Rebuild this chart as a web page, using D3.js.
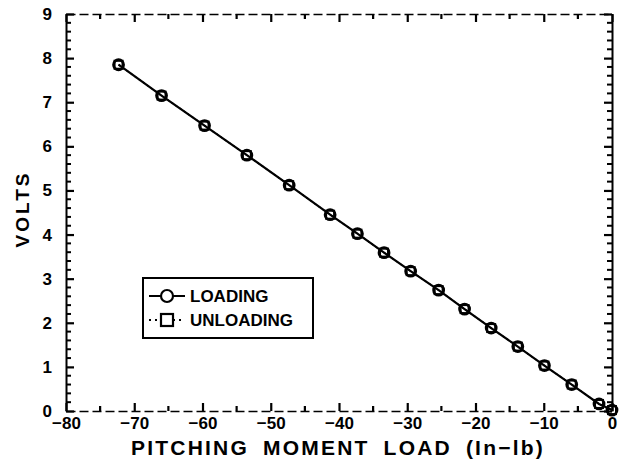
<!DOCTYPE html>
<html>
<head>
<meta charset="utf-8">
<script src="https://cdn.jsdelivr.net/npm/d3@7"></script>
<style>
  body { margin: 0; background: #fff; }
  svg { display: block; }
  text { font-family: "Liberation Sans", Arial, sans-serif; font-weight: bold; fill: #000; }
</style>
</head>
<body>
<div id="chart"></div>
<script>
// Calibration chart: output volts vs pitching moment load

const width = 619;
const height = 472;
const margin = { top: 14, right: 7, bottom: 61, left: 66 };

// Loading points (in-lb, volts)
const loadValues = [-72.3, -66.0, -59.7, -53.5, -47.3, -41.3, -37.3, -33.4, -29.5, -25.4, -21.6, -17.7, -13.8, -9.9, -5.9, -1.9, 0];
const loadingVolts = [7.85, 7.15, 6.47, 5.80, 5.12, 4.45, 4.02, 3.59, 3.17, 2.74, 2.31, 1.88, 1.46, 1.03, 0.60, 0.16, 0.02];
// Unloading points lie on top of the loading ones
const unloadingVolts = [7.85, 7.15, 6.47, 5.80, 5.12, 4.45, 4.02, 3.59, 3.17, 2.74, 2.31, 1.88, 1.46, 1.03, 0.60, 0.16, 0.02];

const xTicks = [-80, -70, -60, -50, -40, -30, -20, -10, 0];
const yTicks = [0, 1, 2, 3, 4, 5, 6, 7, 8, 9];

const innerW = width - margin.left - margin.right;
const innerH = height - margin.top - margin.bottom;

const svg = d3.select('#chart')
    .append('svg')
    .attr('width', width)
    .attr('height', height);

const g = svg.append('g')
    .attr('transform', `translate(${margin.left},${margin.top})`);

const x = d3.scaleLinear().domain([-80, 0]).range([0, innerW]);
const y = d3.scaleLinear().domain([0, 9]).range([innerH, 0]);

const xMinor = d3.range(-80, 0.1, 5).filter(v => !xTicks.includes(v));
const yMinor = d3.range(0, 9.01, 0.2).filter(v => Math.abs(v - Math.round(v)) > 0.01);

const tickColor = '#000';

// Axes with ticks pointing inward
function styleAxis(sel) {
    sel.select('.domain').attr('stroke', '#000').attr('stroke-width', 2);
    sel.selectAll('.tick line').attr('stroke', tickColor).attr('stroke-width', 2.2);
    sel.selectAll('.tick text')
        .attr('font-size', '17px')
        .attr('font-family', '"Liberation Sans", Arial, sans-serif')
        .attr('font-weight', 'bold');
}

// bottom
const axBottom = g.append('g')
    .attr('transform', `translate(0,${innerH})`)
    .call(d3.axisBottom(x).tickValues(xTicks).tickSizeInner(-8).tickSizeOuter(0)
        .tickPadding(6).tickFormat(d => d === 0 ? '0' : '\u2212' + Math.abs(d)))
    .call(styleAxis);
axBottom.select('.domain').attr('stroke-width', 1.4).attr('stroke-dasharray', '9,4');
axBottom.append('g').selectAll('line').data(xMinor).enter().append('line')
    .attr('x1', d => x(d)).attr('x2', d => x(d)).attr('y1', 0).attr('y2', -5)
    .attr('stroke', tickColor).attr('stroke-width', 2.2);

// top
const axTop = g.append('g')
    .call(d3.axisTop(x).tickValues(xTicks).tickSizeInner(-8).tickSizeOuter(0).tickFormat(''))
    .call(styleAxis);
axTop.select('.domain').attr('stroke-width', 1.4).attr('stroke-dasharray', '9,4');
axTop.append('g').selectAll('line').data(xMinor).enter().append('line')
    .attr('x1', d => x(d)).attr('x2', d => x(d)).attr('y1', 0).attr('y2', 5)
    .attr('stroke', tickColor).attr('stroke-width', 2.2);

// left
const axLeft = g.append('g')
    .call(d3.axisLeft(y).tickValues(yTicks).tickSizeInner(-8).tickSizeOuter(0).tickPadding(14))
    .call(styleAxis);
axLeft.append('g').selectAll('line').data(yMinor).enter().append('line')
    .attr('y1', d => y(d)).attr('y2', d => y(d)).attr('x1', 0).attr('x2', 5)
    .attr('stroke', tickColor).attr('stroke-width', 2);

// right
const axRight = g.append('g')
    .attr('transform', `translate(${innerW},0)`)
    .call(d3.axisRight(y).tickValues(yTicks).tickSizeInner(-8).tickSizeOuter(0).tickFormat(''))
    .call(styleAxis);
axRight.append('g').selectAll('line').data(yMinor).enter().append('line')
    .attr('y1', d => y(d)).attr('y2', d => y(d)).attr('x1', 0).attr('x2', -5)
    .attr('stroke', tickColor).attr('stroke-width', 2);

// Series
const loading = loadValues.map((v, i) => ({ x: v, y: loadingVolts[i] }));
const unloading = loadValues.map((v, i) => ({ x: v, y: unloadingVolts[i] }));

const lineGen = d3.line().x(d => x(d.x)).y(d => y(d.y));

g.append('path')
    .datum(unloading)
    .attr('d', lineGen)
    .attr('fill', 'none')
    .attr('stroke', '#000')
    .attr('stroke-width', 1.5)
    .attr('stroke-dasharray', '2,3');

g.append('path')
    .datum(loading)
    .attr('d', lineGen)
    .attr('fill', 'none')
    .attr('stroke', '#000')
    .attr('stroke-width', 2.2);

g.append('g').selectAll('rect')
    .data(unloading)
    .enter()
    .append('rect')
    .attr('x', d => x(d.x) - 4)
    .attr('y', d => y(d.y) - 4)
    .attr('width', 8)
    .attr('height', 8)
    .attr('fill', 'none')
    .attr('stroke', '#000')
    .attr('stroke-width', 2);

g.append('g').selectAll('circle')
    .data(loading)
    .enter()
    .append('circle')
    .attr('cx', d => x(d.x))
    .attr('cy', d => y(d.y))
    .attr('r', 5)
    .attr('fill', 'none')
    .attr('stroke', '#000')
    .attr('stroke-width', 2.8);

// Legend
const legend = g.append('g').attr('transform', `translate(${143 - margin.left},${278 - margin.top})`);
legend.append('rect')
    .attr('width', 170).attr('height', 60)
    .attr('fill', '#fff').attr('stroke', '#000').attr('stroke-width', 2);

const rowA = legend.append('g').attr('transform', 'translate(0,18)');
rowA.append('line').attr('x1', 6).attr('x2', 42).attr('stroke', '#000').attr('stroke-width', 2);
rowA.append('circle').attr('cx', 24).attr('r', 6).attr('fill', '#fff').attr('stroke', '#000').attr('stroke-width', 2.2);
rowA.append('text').attr('x', 47).attr('dy', '0.36em').attr('font-size', '17px').text('LOADING');

const rowB = legend.append('g').attr('transform', 'translate(0,42)');
rowB.append('line').attr('x1', 6).attr('x2', 42).attr('stroke', '#000').attr('stroke-width', 2).attr('stroke-dasharray', '2,4');
rowB.append('rect').attr('x', 18).attr('y', -6).attr('width', 12).attr('height', 12).attr('fill', '#fff').attr('stroke', '#000').attr('stroke-width', 2.2);
rowB.append('text').attr('x', 47).attr('dy', '0.36em').attr('font-size', '17px').text('UNLOADING');

// Axis titles
svg.append('text')
    .attr('x', margin.left + innerW / 2 - 1)
    .attr('y', 455)
    .attr('text-anchor', 'middle')
    .attr('font-size', '21px')
    .attr('letter-spacing', '2.2px')
    .attr('word-spacing', '6px')
    .text('PITCHING MOMENT LOAD (In\u2212lb)');

svg.append('text')
    .attr('transform', `translate(29,${209}) rotate(-90)`)
    .attr('text-anchor', 'middle')
    .attr('font-size', '19px')
    .attr('letter-spacing', '3px')
    .text('VOLTS');
</script>
</body>
</html>
